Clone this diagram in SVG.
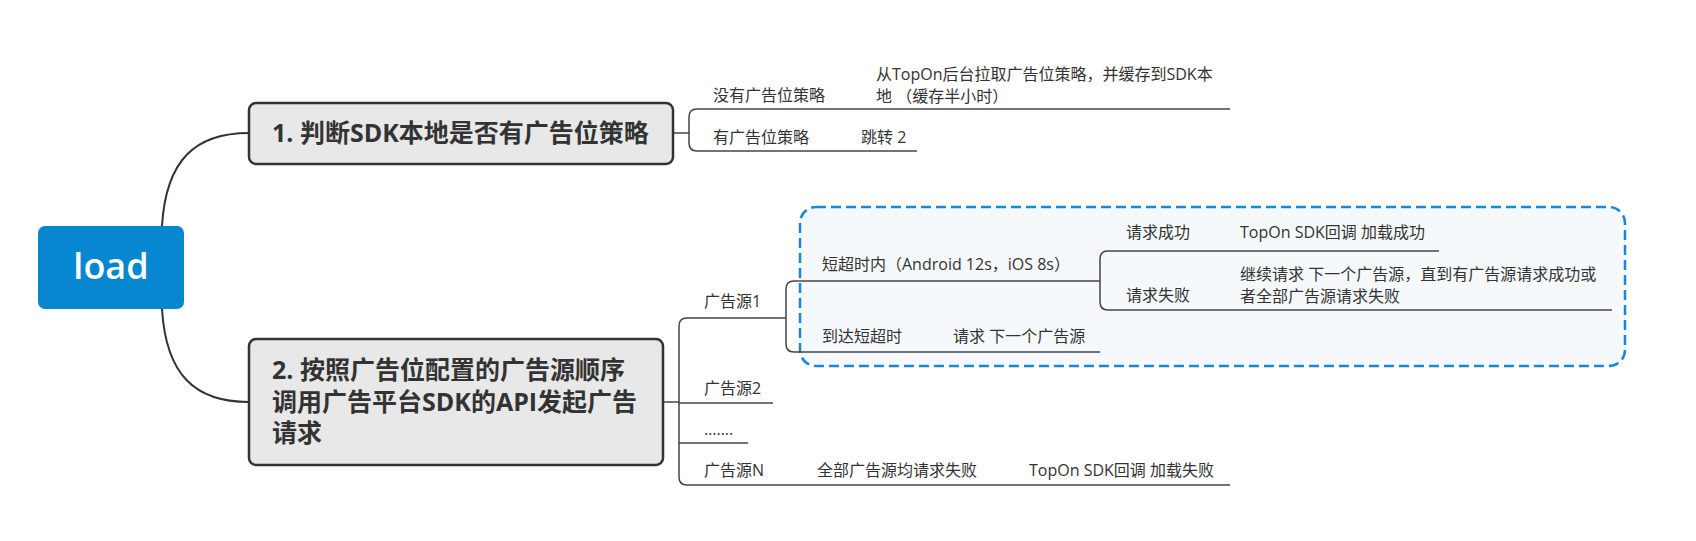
<svg xmlns="http://www.w3.org/2000/svg" width="1696" height="541" viewBox="0 0 1696 541">
<style>
.t{font-family:"Open Sans","Noto Sans CJK SC",sans-serif;font-size:16px;fill:#333}
.b{font-family:"Open Sans","Noto Sans CJK SC",sans-serif;font-size:25px;font-weight:bold;fill:#333}
.ln{fill:none;stroke:#444;stroke-width:1.5}
.cv{fill:none;stroke:#333;stroke-width:2}
.box{fill:#e8e8e8;stroke:#333;stroke-width:2.5}
</style>
<rect width="1696" height="541" fill="#fff"/>
<g id="boundary">
<rect x="800" y="207" width="825" height="159" rx="16" fill="#f6f9fc" stroke="#1888d6" stroke-width="2.5" stroke-dasharray="10 5"/>
</g>
<g id="connectors">
<path class="cv" d="M162 226 C166 160 195 133 249 133"/>
<path class="cv" d="M162 309 C166 375 195 402 249 402"/>
<path class="ln" d="M673 133 H689"/>
<path class="ln" d="M697 109 Q689 109 689 117 V143 Q689 151 697 151"/>
<path class="ln" d="M697 109 H1230"/>
<path class="ln" d="M697 151 H917"/>
<path class="ln" d="M663 402 H679"/>
<path class="ln" d="M687 318 Q679 318 679 326 V477 Q679 485 687 485"/>
<path class="ln" d="M687 318 H786"/>
<path class="ln" d="M679 403 H773"/>
<path class="ln" d="M679 443 H748"/>
<path class="ln" d="M687 485 H1230"/>
<path class="ln" d="M794 281 Q786 281 786 289 V344 Q786 352 794 352"/>
<path class="ln" d="M794 281 H1100"/>
<path class="ln" d="M794 352 H1100"/>
<path class="ln" d="M1108 251 Q1100 251 1100 259 V302 Q1100 310 1108 310"/>
<path class="ln" d="M1108 251 H1439"/>
<path class="ln" d="M1108 310 H1612"/>
</g>
<g id="load">
<rect x="38" y="226" width="146" height="83" rx="7" fill="#0787d0"/>
<text x="111" y="279" text-anchor="middle" font-family="Open Sans, sans-serif" font-size="36" font-weight="600" fill="#fff">load</text>
</g>
<g id="step1">
<rect class="box" x="249" y="103" width="424" height="61" rx="7"/>
<text class="b" x="272" y="142">1. 判断SDK本地是否有广告位策略</text>
</g>
<g id="step2">
<rect class="box" x="249" y="339" width="414" height="126" rx="7"/>
<text class="b" x="272" y="379">2. 按照广告位配置的广告源顺序</text>
<text class="b" x="272" y="411">调用广告平台SDK的API发起广告</text>
<text class="b" x="272" y="442">请求</text>
</g>
<g id="no-policy">
<text class="t" x="713" y="101">没有广告位策略</text>
<text class="t" x="876" y="80">从TopOn后台拉取广告位策略，并缓存到SDK本</text>
<text class="t" x="876" y="102">地 （缓存半小时）</text>
</g>
<g id="has-policy">
<text class="t" x="713" y="143">有广告位策略</text>
<text class="t" x="861" y="143">跳转 2</text>
</g>
<g id="source1">
<text class="t" x="704" y="307">广告源1</text>
<text class="t" x="822" y="270">短超时内（Android 12s，iOS 8s）</text>
<text class="t" x="822" y="342">到达短超时</text>
<text class="t" x="953" y="342">请求 下一个广告源</text>
<text class="t" x="1126" y="238">请求成功</text>
<text class="t" x="1240" y="238">TopOn SDK回调 加载成功</text>
<text class="t" x="1126" y="301">请求失败</text>
<text class="t" x="1240" y="280">继续请求 下一个广告源，直到有广告源请求成功或</text>
<text class="t" x="1240" y="302">者全部广告源请求失败</text>
</g>
<g id="source2">
<text class="t" x="704" y="394">广告源2</text>
</g>
<g id="ellipsis">
<text class="t" x="704" y="435">…….</text>
</g>
<g id="sourceN">
<text class="t" x="704" y="476">广告源N</text>
<text class="t" x="817" y="476">全部广告源均请求失败</text>
<text class="t" x="1029" y="476">TopOn SDK回调 加载失败</text>
</g>
</svg>
